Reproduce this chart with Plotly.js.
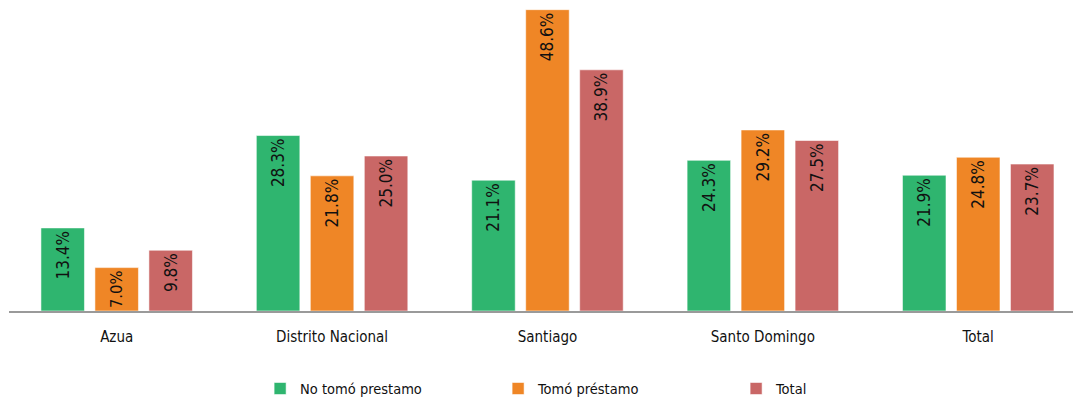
<!DOCTYPE html>
<html>
<head>
<meta charset="utf-8">
<script src="https://cdn.plot.ly/plotly-3.0.1.min.js"></script>
<style>html,body{margin:0;padding:0;background:#fff;}#chart{width:1073px;height:400px;}</style>
</head>
<body>
<div id="chart"></div>
<script>
const categories = ["Azua", "Distrito Nacional", "Santiago", "Santo Domingo", "Total"];
const seriesNames = ["No tomó prestamo", "Tomó préstamo", "Total"];
const noTomo = [13.4, 28.3, 21.1, 24.3, 21.9];
const tomo = [7.0, 21.8, 48.6, 29.2, 24.8];
const total = [9.8, 25.0, 38.9, 27.5, 23.7];
const colors = ["#2fb56f", "#ef8626", "#c96766"];

const FONT = "'DejaVu Sans Condensed', 'Liberation Sans Narrow', sans-serif";
const series = [noTomo, tomo, total];
const traces = series.map((vals, i) => ({
  type: "bar",
  name: seriesNames[i],
  x: categories,
  y: vals,
  text: vals.map(v => v.toFixed(1) + "%"),
  textposition: "inside",
  insidetextanchor: "end",
  textangle: -90,
  insidetextfont: {family: FONT, size: 17, color: "#111"},
  marker: {color: colors[i], line: {color: "rgba(255,255,255,0.55)", width: 1}},
  hoverinfo: "x+y"
}));

const layout = {
  width: 1073,
  height: 400,
  margin: {l: 9, r: 0, t: 0, b: 89, autoexpand: false},
  paper_bgcolor: "#fff",
  plot_bgcolor: "#fff",
  barmode: "group",
  bargap: 0.248,
  bargroupgap: 0.194,
  showlegend: true,
  font: {family: FONT, size: 15, color: "#111"},
  xaxis: {
    type: "category",
    range: [-0.5, 4.44],
    showline: true,
    linecolor: "#9a9a9a",
    linewidth: 2,
    showgrid: false,
    zeroline: false,
    ticks: "",
    ticklabelstandoff: 11,
    tickfont: {family: FONT, size: 15, color: "#111"}
  },
  yaxis: {
    range: [0, 50.16],
    showgrid: false,
    zeroline: false,
    showticklabels: false,
    showline: false
  },
  legend: {
    orientation: "h",
    x: 0.236,
    xanchor: "left",
    y: -0.198,
    yanchor: "top",
    entrywidth: 193,
    entrywidthmode: "pixels",
    font: {family: FONT, size: 14.5, color: "#111"},
    bgcolor: "rgba(0,0,0,0)"
  }
};

Plotly.newPlot("chart", traces, layout, {displayModeBar: false, staticPlot: true});
</script>
</body>
</html>
